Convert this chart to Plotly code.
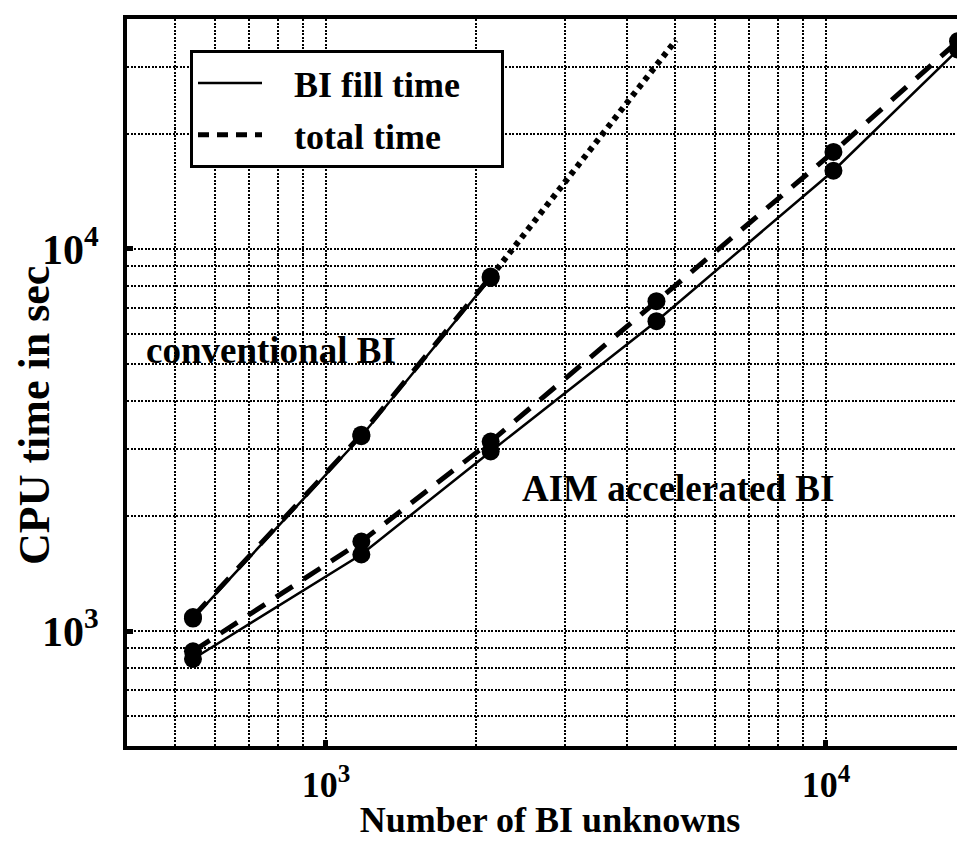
import numpy as np
import plotly.graph_objects as go

# ---- data ----
x_conv = [542, 1177, 2135]
conv_fill = [1078, 3235, 8400]
conv_total = [1088, 3265, 8470]

x_extrap = [2135, 5010]
conv_extrap = [8440, 35200]

x_aim = [542, 1177, 2135, 4581, 10350, 18370]
aim_fill = [845, 1586, 2952, 6470, 16030, 33250]
aim_total = [885, 1715, 3133, 7300, 17950, 34990]

x_major = [1000, 10000]
x_major_text = ["10<sup>3</sup>", "10<sup>4</sup>"]
y_major = [1000, 10000]
y_major_text = ["10<sup>3</sup>", "10<sup>4</sup>"]
x_minor = [500, 600, 700, 800, 900, 2000, 3000, 4000, 5000, 6000, 7000, 8000, 9000]
y_minor = [600, 700, 800, 900, 2000, 3000, 4000, 5000, 6000, 7000, 8000, 9000, 20000, 30000]

FONT = "Liberation Serif"
SOLID_W = 2.5
DASH_W = 5
DASH = "20px,13px"
MSIZE = 18
SP = "&nbsp;"

fig = go.Figure()

def add(x, y, dash, width, markers=True):
    fig.add_trace(go.Scatter(
        x=x, y=y, mode="lines+markers" if markers else "lines",
        line=dict(color="black", width=width, dash=dash),
        marker=dict(color="black", size=MSIZE, symbol="circle"),
        showlegend=False, hoverinfo="skip"))

add(x_extrap, conv_extrap, "5px,5px", 6, markers=False)
add(x_conv, conv_fill, "solid", SOLID_W)
add(x_conv, conv_total, DASH, DASH_W)
add(x_aim, aim_fill, "solid", SOLID_W)
add(x_aim, aim_total, DASH, DASH_W)

# legend-only entries
fig.add_trace(go.Scatter(x=[None], y=[None], mode="lines",
                         name=SP * 3 + "BI fill time" + SP * 4,
                         line=dict(color="black", width=SOLID_W), legendgroup="a"))
fig.add_trace(go.Scatter(x=[None], y=[None], mode="lines",
                         name=SP * 3 + "total time",
                         line=dict(color="black", width=DASH_W, dash="11px,8px"), legendgroup="b"))

GRIDW = 2
GRIDDASH = "2px,1.5px"
grid = dict(gridcolor="black", gridwidth=GRIDW, griddash=GRIDDASH, showgrid=True)

fig.update_xaxes(
    type="log", range=[np.log10(400), np.log10(400) + 846 / 500],
    tickvals=x_major, ticktext=x_major_text,
    ticks="inside", ticklen=6, tickwidth=5, tickcolor="black",
    showline=True, linecolor="black", linewidth=4, mirror=True,
    tickfont=dict(family=FONT, size=36, color="black", weight="bold"),
    ticklabelstandoff=4,
    minor=dict(tickvals=x_minor, showgrid=True, gridcolor="black", gridwidth=GRIDW,
               griddash=GRIDDASH, ticks=""),
    title=dict(text="<b>Number of BI unknowns</b>", standoff=4,
               font=dict(family=FONT, size=36, color="black")),
    automargin=False, zeroline=False, **grid)

fig.update_yaxes(
    type="log", range=[np.log10(500), np.log10(40000)],
    tickvals=y_major, ticktext=y_major_text,
    ticks="inside", ticklen=6, tickwidth=5, tickcolor="black",
    showline=True, linecolor="black", linewidth=4, mirror=False,
    tickfont=dict(family=FONT, size=42, color="black", weight="bold"),
    ticklabelstandoff=16,
    minor=dict(tickvals=y_minor, showgrid=True, gridcolor="black", gridwidth=GRIDW,
               griddash=GRIDDASH, ticks=""),
    automargin=False, zeroline=False, **grid)

# y-axis title placed as rotated text (centre of the reference's title)
fig.add_annotation(xref="paper", yref="paper", x=(26 - 119) / 846, y=1 - (408 - 11) / 727,
                   text="<b>CPU time in sec</b>", textangle=-90, showarrow=False,
                   xanchor="center", yanchor="middle",
                   font=dict(family=FONT, size=44, color="black"))

fig.add_annotation(x=np.log10(776), y=np.log10(5410), text="<b>conventional BI</b>",
                   showarrow=False, font=dict(family=FONT, size=37, color="black"))
fig.add_annotation(x=np.log10(5060), y=np.log10(2366), text="<b>AIM accelerated BI</b>",
                   showarrow=False, font=dict(family=FONT, size=37, color="black"))

fig.update_layout(
    width=965, height=841,
    margin=dict(l=119, r=0, t=11, b=103),
    paper_bgcolor="white", plot_bgcolor="white",
    font=dict(family=FONT, color="black"),
    legend=dict(x=(182 - 119) / 846, y=1 - (42 - 11) / 727, xanchor="left", yanchor="top",
                bgcolor="white", bordercolor="black", borderwidth=3,
                font=dict(family=FONT, size=36, color="black", weight="bold"),
                itemwidth=64, tracegroupgap=2, traceorder="grouped"),
)

fig.write_html("out.html")
